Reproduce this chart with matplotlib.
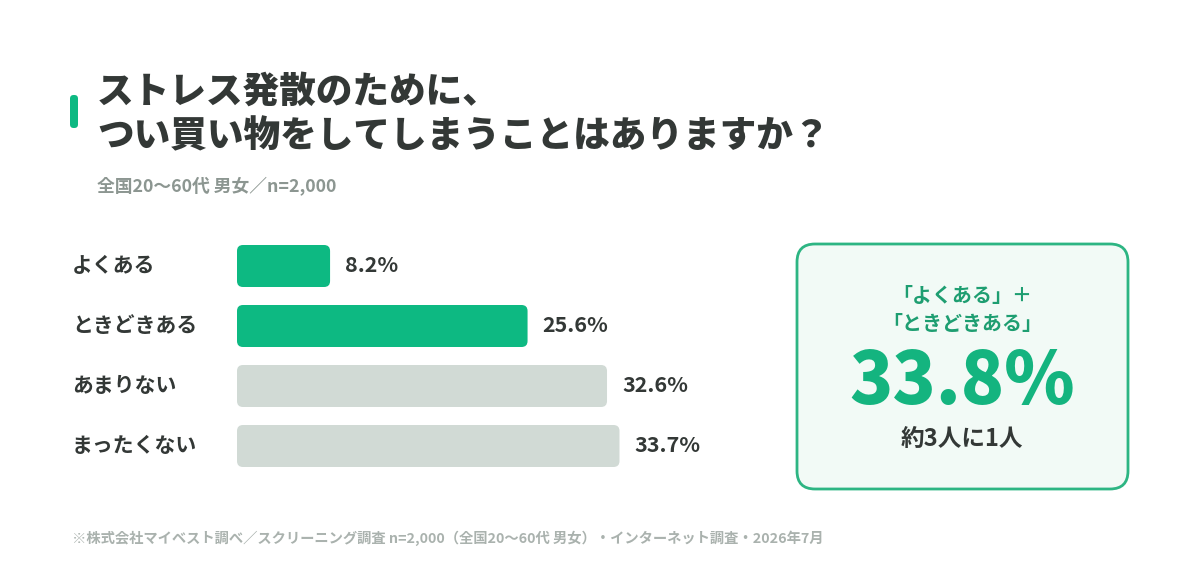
import matplotlib
matplotlib.use("Agg")
import matplotlib.pyplot as plt
from matplotlib.patches import FancyBboxPatch
from matplotlib.transforms import blended_transform_factory

plt.rcParams['font.family'] = ['Noto Sans CJK JP', 'DejaVu Sans']

categories = ["よくある", "ときどきある", "あまりない", "まったくない"]
values = [8.2, 25.6, 32.6, 33.7]
highlight = [True, True, False, False]

title_lines = ["ストレス発散のために、", "つい買い物をしてしまうことはありますか？"]
subtitle = "全国20〜60代 男女／n=2,000"
box_head = ["「よくある」＋", "「ときどきある」"]
box_value = "33.8%"
box_note = "約3人に1人"
footnote = "※株式会社マイベスト調べ／スクリーニング調査 n=2,000（全国20〜60代 男女）・インターネット調査・2026年7月"

GREEN = "#0DB982"
GRAY = "#D1DAD5"
DARK = "#333836"
W, H = 1200, 574

fig = plt.figure(figsize=(W / 100, H / 100), dpi=100)
fig.patch.set_facecolor("white")

def fx(px):
    return px / W

def fy(py):
    return 1 - py / H

# title accent
fig.patches.append(FancyBboxPatch((fx(70), fy(128)), fx(8), 33 / H,
                                  boxstyle="round,pad=0,rounding_size=0.003",
                                  transform=fig.transFigure, facecolor=GREEN,
                                  edgecolor="none", mutation_aspect=W / H))
fig.text(fx(97), fy(92), title_lines[0], fontsize=26.4, fontweight="heavy",
         color=DARK, va="center", ha="left")
fig.text(fx(97), fy(136), title_lines[1], fontsize=26.4, fontweight="heavy",
         color=DARK, va="center", ha="left")
fig.text(fx(97), fy(186), subtitle, fontsize=12.8, fontweight="bold",
         color="#8C9691", va="center", ha="left")

# bar axes
x0, px_per_unit = 237, 11.35
xmax = 40
ax_top, ax_bot = 236, 476
ax = fig.add_axes([fx(x0), fy(ax_bot), xmax * px_per_unit / W, (ax_bot - ax_top) / H])
ax.set_xlim(0, xmax)
ax.set_ylim(len(categories) - 0.5, -0.5)
ax.axis("off")

bar_h = 0.7
ypx_per_unit = (ax_bot - ax_top) / len(categories)
aspect = (1 / ypx_per_unit) / (1 / px_per_unit)
rad_px = 6
bars = ax.barh(range(len(categories)), values, height=bar_h, alpha=0)
for i, (b, v, hl) in enumerate(zip(bars, values, highlight)):
    p = FancyBboxPatch((b.get_x(), b.get_y()), b.get_width(), b.get_height(),
                       boxstyle=f"round,pad=0,rounding_size={rad_px / px_per_unit}",
                       mutation_aspect=aspect, facecolor=GREEN if hl else GRAY,
                       edgecolor="none")
    ax.add_patch(p)
    ax.text(v + 15 / px_per_unit, i, f"{v}%", fontsize=15.5, fontweight="bold",
            color=DARK, va="center", ha="left")

trans = blended_transform_factory(fig.transFigure, ax.transData)
for i, c in enumerate(categories):
    ax.text(fx(72), i, c, transform=trans, fontsize=15, fontweight="bold",
            color=DARK, va="center", ha="left")

# summary box
bx0, by0, bx1, by1 = 797, 244, 1128, 489
fig.patches.append(FancyBboxPatch((fx(bx0), fy(by1)), fx(bx1 - bx0), (by1 - by0) / H,
                                  boxstyle=f"round,pad=0,rounding_size={18 / W}",
                                  transform=fig.transFigure, facecolor="#F2FAF6",
                                  edgecolor="#2DB583", linewidth=2,
                                  mutation_aspect=W / H))
cx = fx(962)
fig.text(cx, fy(295), box_head[0], fontsize=14.4, fontweight="bold",
         color="#1E9E71", ha="center", va="center")
fig.text(cx, fy(323), box_head[1], fontsize=14.4, fontweight="bold",
         color="#1E9E71", ha="center", va="center")
fig.text(cx, fy(383), box_value, fontsize=51.5, fontweight="heavy",
         color="#14B47F", ha="center", va="center")
fig.text(cx, fy(439), box_note, fontsize=17, fontweight="bold",
         color=DARK, ha="center", va="center")

fig.text(fx(72), fy(538), footnote, fontsize=10.3, fontweight="bold",
         color="#AAB2AE", ha="left", va="center")

fig.savefig("out.png", dpi=100, facecolor="white")
